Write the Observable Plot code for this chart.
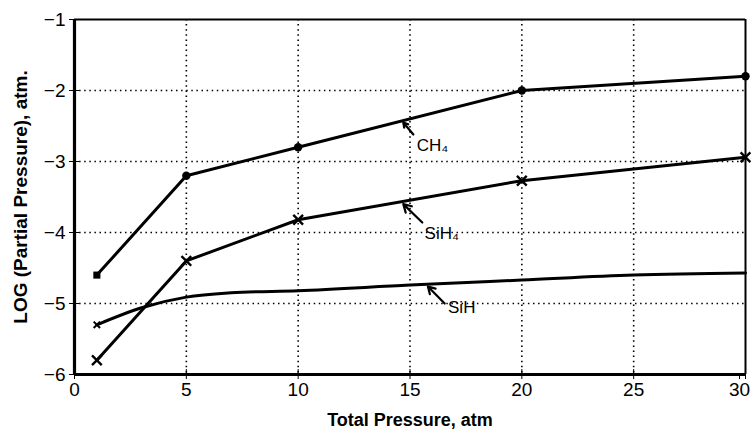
<!DOCTYPE html>
<html>
<head>
<meta charset="utf-8">
<script src="https://cdn.jsdelivr.net/npm/d3@7"></script>
<script src="https://cdn.jsdelivr.net/npm/@observablehq/plot@0.6"></script>
<style>
  html, body { margin: 0; padding: 0; background: #fff; }
  svg { font-family: "Liberation Sans", Arial, sans-serif; }
</style>
</head>
<body>
<div id="chart"></div>
<script>
// Data
const pressureCH4 = [1, 5, 10, 20, 30];
const logCH4 = [-4.6, -3.2, -2.8, -2.0, -1.8];
const pressureSiH4 = [1, 5, 10, 20, 30];
const logSiH4 = [-5.8, -4.4, -3.82, -3.27, -2.94];
const pressureSiH = [1, 3, 5, 7, 10, 15, 20, 25, 30];
const logSiH = [-5.3, -5.06, -4.91, -4.85, -4.82, -4.74, -4.67, -4.6, -4.57];

const xTicks = [0, 5, 10, 15, 20, 25];
const xLastTick = [30];
const yTicks = [-1, -2, -3, -4, -5, -6];
const xGrid = [5, 10, 15, 20, 25];
const yGrid = [-2, -3, -4, -5];

const labelText = ["CH\u2084", "SiH\u2084", "SiH"];
const labelX = [15.3, 15.65, 16.7];
const labelY = [-2.78, -4.02, -5.05];
const arrowX1 = [15.15, 15.55, 16.55];
const arrowY1 = [-2.62, -3.86, -5.0];
const arrowX2 = [14.7, 14.7, 15.8];
const arrowY2 = [-2.45, -3.6, -4.76];

const ch4 = pressureCH4.map((x, i) => ({x, y: logCH4[i]}));
const sih4 = pressureSiH4.map((x, i) => ({x, y: logSiH4[i]}));
const sih = pressureSiH.map((x, i) => ({x, y: logSiH[i]}));
const labels = labelText.map((t, i) => ({t, x: labelX[i], y: labelY[i]}));
const arrows = arrowX1.map((x1, i) => ({x1, y1: arrowY1[i], x2: arrowX2[i], y2: arrowY2[i]}));

const chart = Plot.plot({
  width: 752,
  height: 432,
  marginLeft: 74,
  marginRight: 7,
  marginTop: 19,
  marginBottom: 58,
  style: {fontFamily: "Liberation Sans, Arial, sans-serif", background: "#fff", color: "#000"},
  x: {domain: [0, 30]},
  y: {domain: [-6, -1]},
  marks: [
    Plot.ruleX(xGrid, {stroke: "#000", strokeWidth: 1.6, strokeDasharray: "1.5,3.6"}),
    Plot.ruleY(yGrid, {stroke: "#000", strokeWidth: 1.6, strokeDasharray: "1.5,3.6"}),
    Plot.ruleX([30], {stroke: "#000", strokeWidth: 2}),
    Plot.ruleY([-1], {stroke: "#000", strokeWidth: 2}),
    Plot.ruleX([0], {stroke: "#000", strokeWidth: 3.2}),
    Plot.ruleY([-6], {stroke: "#000", strokeWidth: 3.2}),
    Plot.axisX({ticks: xTicks, tickSize: 5, tickPadding: 3, fontSize: 19, label: null, tickFormat: d => d}),
    Plot.axisX({ticks: xLastTick, tickSize: 5, tickPadding: 3, fontSize: 19, label: null, tickFormat: d => d, dx: -6}),
    Plot.axisX({ticks: xLastTick, tickSize: 5, text: null, label: null}),
    Plot.axisX({ticks: xTicks.concat(xLastTick), tickSize: -5, text: null, label: null}),
    Plot.axisY({ticks: yTicks, tickSize: 5, tickPadding: 4, fontSize: 19, label: null, tickFormat: d => "\u2212" + Math.abs(d)}),
    Plot.axisY({ticks: yTicks, tickSize: -5, text: null, label: null}),
    Plot.line(sih, {x: "x", y: "y", curve: "monotone-x", stroke: "#000", strokeWidth: 3}),
    Plot.line(ch4, {x: "x", y: "y", stroke: "#000", strokeWidth: 3}),
    Plot.line(sih4, {x: "x", y: "y", stroke: "#000", strokeWidth: 3}),
    Plot.dot(ch4.slice(0, 1), {x: "x", y: "y", r: 4, fill: "#000", symbol: "square"}),
    Plot.dot(ch4.slice(1), {x: "x", y: "y", r: 4.2, fill: "#000", symbol: "circle"}),
    Plot.dot(sih4, {x: "x", y: "y", r: 4.5, stroke: "#000", strokeWidth: 2.4, symbol: "times"}),
    Plot.dot(sih.slice(0, 1), {x: "x", y: "y", r: 3, stroke: "#000", strokeWidth: 2, symbol: "times"}),
    Plot.arrow(arrows, {x1: "x1", y1: "y1", x2: "x2", y2: "y2", stroke: "#000", strokeWidth: 2.2, headLength: 9}),
    Plot.text(labels, {x: "x", y: "y", text: "t", textAnchor: "start", fontSize: 17, fill: "#000"}),
    Plot.text(["Total Pressure, atm"], {frameAnchor: "bottom", dy: 51, fontSize: 18, fontWeight: "bold", fill: "#000"}),
    Plot.text(["LOG (Partial Pressure), atm."], {frameAnchor: "left", textAnchor: "middle", dx: -54, rotate: -90, fontSize: 19, fontWeight: "bold", fill: "#000"})
  ]
});
document.getElementById("chart").appendChild(chart);
</script>
</body>
</html>
